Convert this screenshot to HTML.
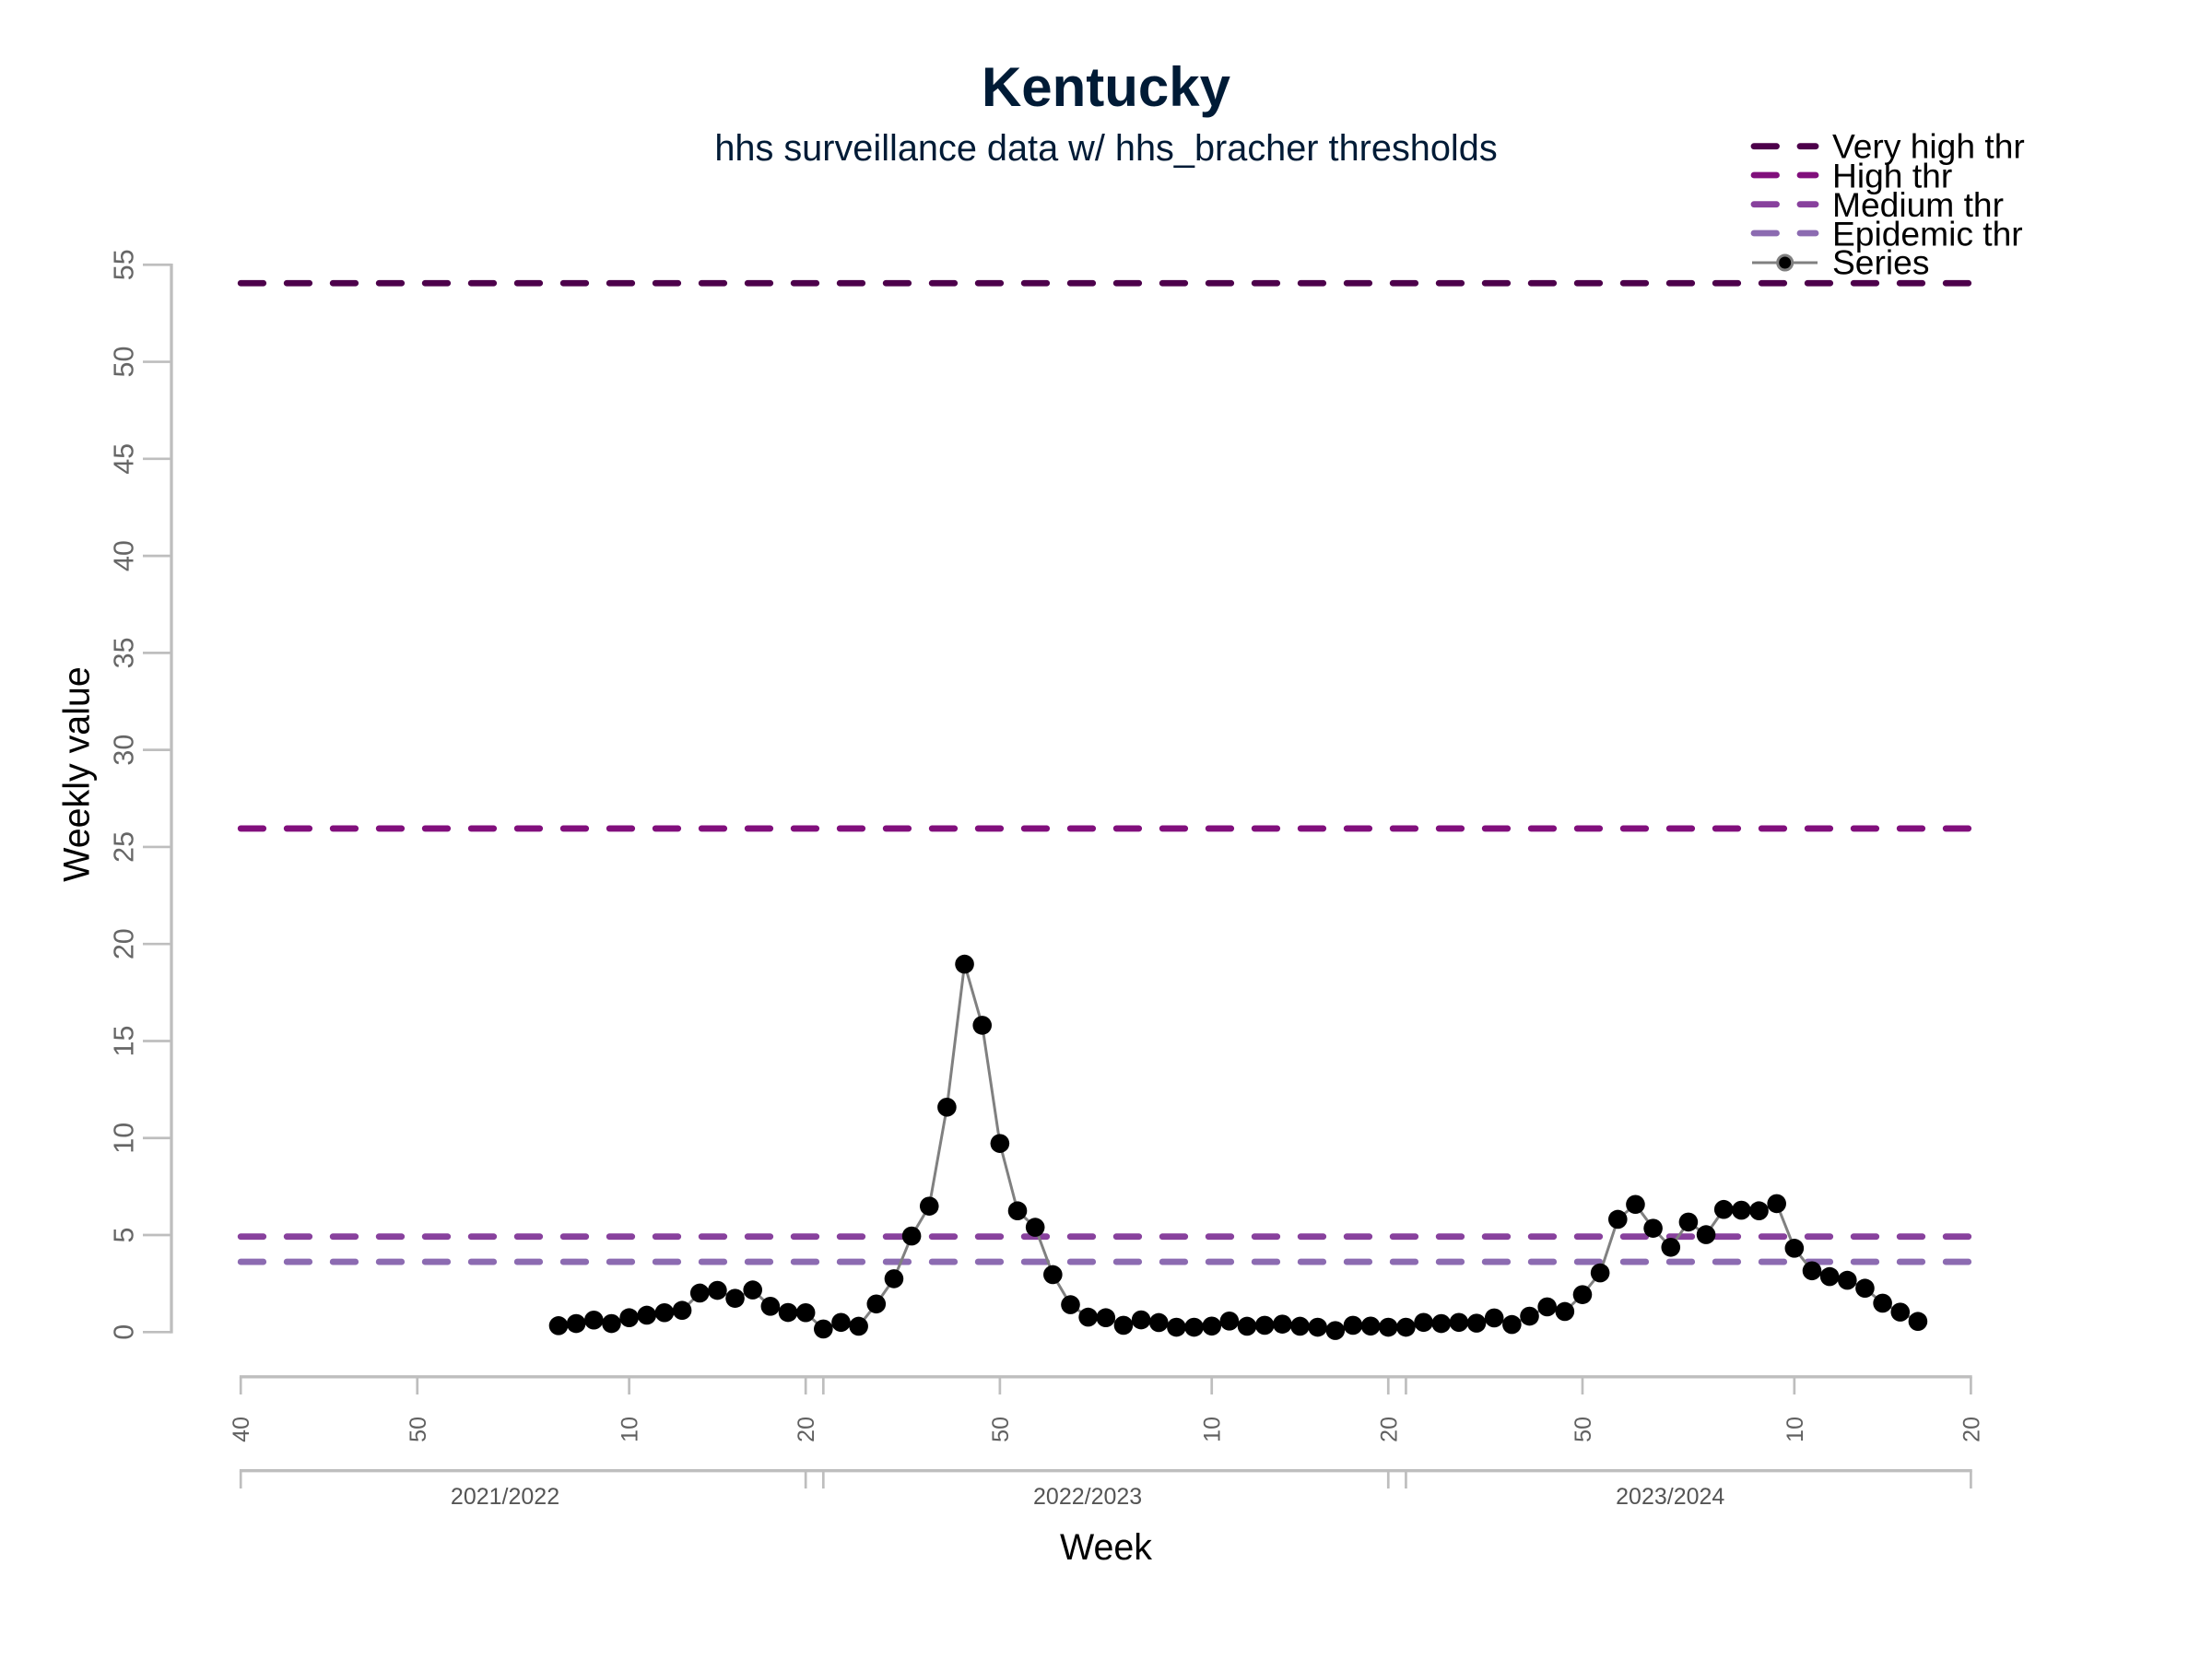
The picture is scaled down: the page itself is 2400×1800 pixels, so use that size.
<!DOCTYPE html>
<html lang="en">
<head>
<meta charset="utf-8">
<title>Kentucky</title>
<style>
html,body{margin:0;padding:0;background:#fff;}
svg{display:block;font-family:"Liberation Sans",Arial,sans-serif;}
</style>
</head>
<body>
<svg id="chart" width="2400" height="1800" viewBox="0 0 2400 1800" xmlns="http://www.w3.org/2000/svg">
  <rect x="0" y="0" width="2400" height="1800" fill="#ffffff"/>
  <text x="1200" y="115" text-anchor="middle" font-size="60" font-weight="bold" fill="#001B36">Kentucky</text>
  <text x="1200" y="174" text-anchor="middle" font-size="39.7" fill="#001B36">hhs surveillance data w/ hhs_bracher thresholds</text>
  <text transform="translate(96.7,840) rotate(-90)" text-anchor="middle" font-size="39.4" fill="#000000">Weekly value</text>
  <text x="1200" y="1692" text-anchor="middle" font-size="39.4" fill="#000000">Week</text>
  <g id="thresholds"></g>
  <g id="yaxis"></g>
  <g id="xaxis"></g>
  <g id="seasonaxis"></g>
  <g id="series"></g>
  <g id="legend"></g>
</svg>
<script>
const seriesValues = [
  0.33,0.44,0.62,0.44,0.74,0.87,1.00,1.12,2.01,2.15,1.74,2.17,1.33,1.01,1.00,
  0.16,0.50,0.30,1.45,2.75,4.95,6.49,11.59,18.96,15.81,9.72,6.25,5.40,2.96,1.41,
  0.77,0.74,0.35,0.63,0.49,0.25,0.25,0.31,0.57,0.30,0.35,0.41,0.30,0.25,0.08,0.35,0.31,0.25,
  0.25,0.50,0.44,0.50,0.46,0.73,0.39,0.82,1.30,1.06,1.93,3.05,5.81,6.58,5.35,4.37,5.67,5.02,
  6.32,6.28,6.25,6.62,4.32,3.16,2.86,2.67,2.26,1.49,1.03,0.55
];
const seriesFirstWeekIndex = 18;
const thresholdNames = ["Very high thr","High thr","Medium thr","Epidemic thr"];
const thresholdValues = [54.05,25.95,4.92,3.62];
const thresholdColors = ["#4D004B","#810F7C","#88419D","#8C6BB1"];
const yTicks = [0,5,10,15,20,25,30,35,40,45,50,55];
const weekTickIndex = [0,10,22,32,33,43,55,65,66,76,88,98];
const weekTickLabels = ["40","50","10","20","","50","10","20","","50","10","20"];
const seasonTickIndex = [0,32,33,65,66,98];
const seasonLabels = ["2021/2022","2022/2023","2023/2024"];
const seasonLabelIndex = [15,48,81];

const NS = "http://www.w3.org/2000/svg";
function xScale(i){ return 261.2 + 19.155 * i; }
function yScale(v){ return 1445.3 - 21.055 * v; }
function make(tag, attrs, parent){
  const el = document.createElementNS(NS, tag);
  for (const k in attrs) el.setAttribute(k, attrs[k]);
  parent.appendChild(el);
  return el;
}
const AXIS = "#BEBEBE";
const thresholdsG = document.getElementById("thresholds");
const yaxisG = document.getElementById("yaxis");
const xaxisG = document.getElementById("xaxis");
const seasonG = document.getElementById("seasonaxis");
const seriesG = document.getElementById("series");
const legendG = document.getElementById("legend");

thresholdValues.forEach(function(v, i){
  const l = make("line", {x1:xScale(0), x2:xScale(98), y1:yScale(v), y2:yScale(v), stroke:thresholdColors[i], "stroke-width":6.8, "stroke-dasharray":"24.5 25.5", "stroke-linecap":"round"}, thresholdsG);
  
  
});

const yLine = make("line", {x1:186, x2:186, y1:yScale(yTicks[0])+1.3, y2:yScale(yTicks[yTicks.length-1])-1.3, stroke:AXIS, "stroke-width":3.3}, yaxisG);


yTicks.forEach(function(t){
  const y = yScale(t);
  const tick = make("line", {x1:155, x2:186, y1:y, y2:y, stroke:AXIS, "stroke-width":2.7}, yaxisG);
  
  
  const lab = make("text", {transform:"translate(144.5,"+y+") rotate(-90)", "text-anchor":"middle", "font-size":30.5, fill:"#666666"}, yaxisG);
  
  
  lab.textContent = String(t);
});

const xLine = make("line", {x1:xScale(0)-1.3, x2:xScale(98)+1.3, y1:1493.8, y2:1493.8, stroke:AXIS, "stroke-width":3.3}, xaxisG);


weekTickIndex.forEach(function(ix, n){
  const x = xScale(ix);
  const tick = make("line", {x1:x, x2:x, y1:1493.8, y2:1513, stroke:AXIS, "stroke-width":2.7}, xaxisG);
  
  
  if (weekTickLabels[n]) {
    const lab = make("text", {transform:"translate("+(x+9)+",1537) rotate(-90)", "text-anchor":"end", "font-size":25, fill:"#606060"}, xaxisG);
    
    
    lab.textContent = weekTickLabels[n];
  }
});

const sLine = make("line", {x1:xScale(0)-1.3, x2:xScale(98)+1.3, y1:1595.7, y2:1595.7, stroke:AXIS, "stroke-width":3.3}, seasonG);


seasonTickIndex.forEach(function(ix){
  const x = xScale(ix);
  const tick = make("line", {x1:x, x2:x, y1:1595.7, y2:1615, stroke:AXIS, "stroke-width":2.7}, seasonG);
  
  
});
seasonLabels.forEach(function(s, n){
  const lab = make("text", {x:xScale(seasonLabelIndex[n])-0.5, y:1632, "text-anchor":"middle", "font-size":25, fill:"#555555"}, seasonG);
  
  
  lab.textContent = s;
});

const pts = seriesValues.map(function(v, n){ return xScale(seriesFirstWeekIndex + n).toFixed(2) + "," + yScale(v).toFixed(2); }).join(" ");
const poly = make("polyline", {points:pts, fill:"none", stroke:"#808080", "stroke-width":3}, seriesG);


seriesValues.forEach(function(v, n){
  const c = make("circle", {cx:xScale(seriesFirstWeekIndex + n), cy:yScale(v), r:10.3, fill:"#000000"}, seriesG);
  
  
});

const legendLineY = [158.7,190,221.7,253];
const legendTextY = [171.7,203.3,235,266.7];
thresholdNames.forEach(function(name, i){
  const l = make("line", {x1:1903, x2:1970, y1:legendLineY[i], y2:legendLineY[i], stroke:thresholdColors[i], "stroke-width":6.8, "stroke-dasharray":"24.5 25.5", "stroke-linecap":"round"}, legendG);
  
  
  const t = make("text", {x:1988, y:legendTextY[i], "font-size":37.2, fill:"#000000"}, legendG);
  
  
  t.textContent = name;
});
const lgLine = make("line", {x1:1901, x2:1972, y1:285, y2:285, stroke:"#808080", "stroke-width":3}, legendG);


const lgDot = make("circle", {cx:1936.7, cy:285, r:8, fill:"#000000", stroke:"#808080", "stroke-width":3}, legendG);


const lgText = make("text", {x:1988, y:297.5, "font-size":37.2, fill:"#000000"}, legendG);


lgText.textContent = "Series";
</script>
</body>
</html>
